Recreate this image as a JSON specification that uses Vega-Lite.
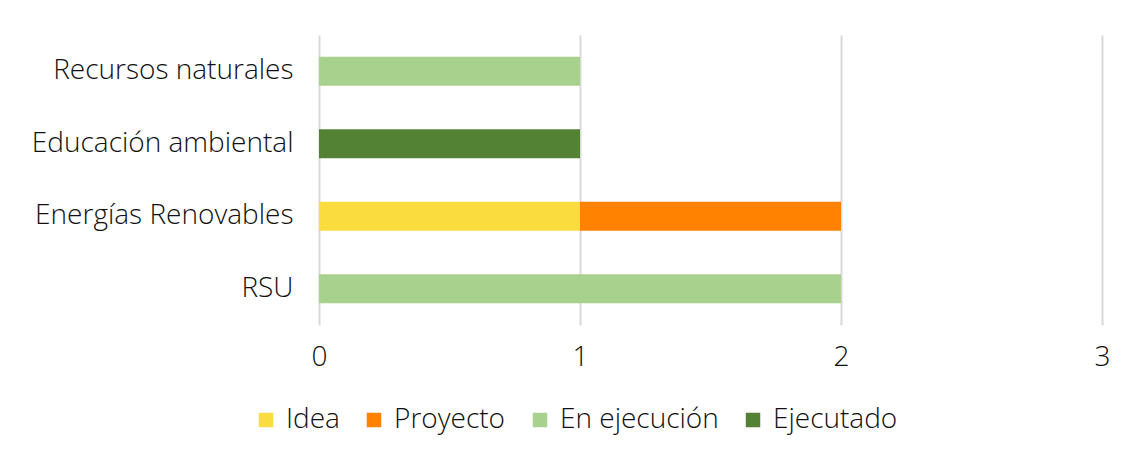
{
  "$schema": "https://vega.github.io/schema/vega-lite/v6.json",
  "autosize": "none",
  "width": 783,
  "height": 290,
  "padding": {"left": 319, "top": 35, "right": 31, "bottom": 131},
  "background": "white",
  "config": {
    "font": "Open Sans",
    "view": {"stroke": null}
  },
  "data": {
    "values": [
      {"tema": "Recursos naturales", "estado": "En ejecución", "orden": 3, "n": 1},
      {"tema": "Educación ambiental", "estado": "Ejecutado", "orden": 4, "n": 1},
      {"tema": "Energías Renovables", "estado": "Idea", "orden": 1, "n": 1},
      {"tema": "Energías Renovables", "estado": "Proyecto", "orden": 2, "n": 1},
      {"tema": "RSU", "estado": "En ejecución", "orden": 3, "n": 2}
    ]
  },
  "mark": {"type": "bar"},
  "encoding": {
    "y": {
      "field": "tema",
      "type": "nominal",
      "sort": ["Recursos naturales", "Educación ambiental", "Energías Renovables", "RSU"],
      "scale": {"paddingInner": 0.6, "paddingOuter": 0.3},
      "axis": {
        "title": null,
        "domain": false,
        "ticks": false,
        "labelFontSize": 28,
        "labelFontWeight": 300,
        "labelColor": "#111111",
        "labelPadding": 26,
        "labelLimit": 400
      }
    },
    "x": {
      "field": "n",
      "type": "quantitative",
      "stack": "zero",
      "scale": {"domain": [0, 3], "nice": false},
      "axis": {
        "title": null,
        "values": [0, 1, 2, 3],
        "domain": false,
        "ticks": false,
        "grid": true,
        "gridColor": "#d9d9d9",
        "gridWidth": 2,
        "labelFontSize": 28,
        "labelFontWeight": 300,
        "labelColor": "#111111",
        "labelPadding": 18,
        "labelFlush": false
      }
    },
    "color": {
      "field": "estado",
      "type": "nominal",
      "scale": {
        "domain": ["Idea", "Proyecto", "En ejecución", "Ejecutado"],
        "range": ["#FADC3F", "#FF8300", "#A9D18E", "#548235"]
      },
      "legend": {
        "title": null,
        "orient": "none",
        "direction": "horizontal",
        "legendX": -67,
        "legendY": 371,
        "symbolType": "square",
        "symbolSize": 210,
        "symbolStrokeWidth": 0,
        "labelFontSize": 28,
        "labelFontWeight": 300,
        "labelColor": "#111111",
        "labelOffset": 6,
        "labelLimit": 300,
        "columnPadding": 20
      }
    },
    "order": {"field": "orden", "type": "quantitative"}
  }
}
